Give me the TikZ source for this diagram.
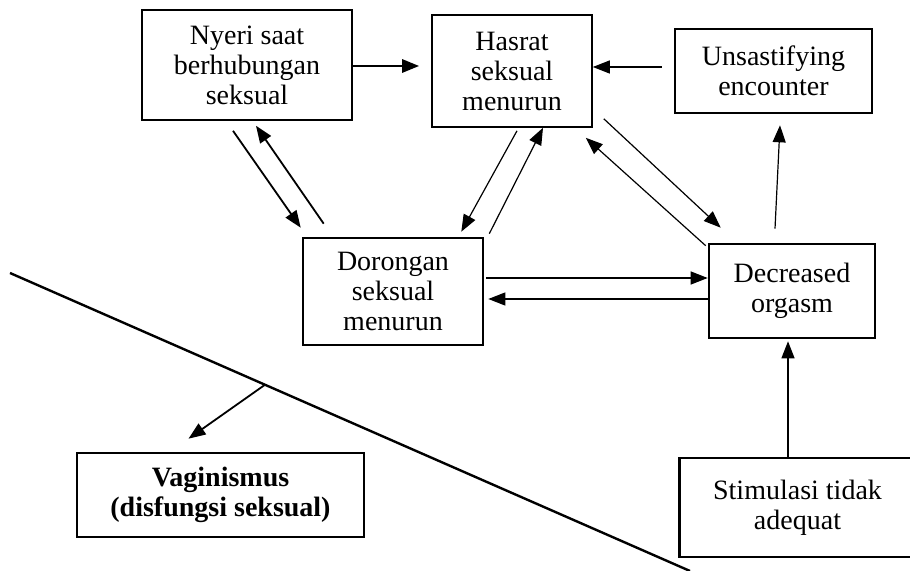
\documentclass[tikz,border=0pt]{standalone}
\usepackage{fontspec}
\setmainfont{Liberation Serif}
\usepackage{tikz}
\usetikzlibrary{positioning, calc, arrows.meta}

\begin{document}
\begin{tikzpicture}[x=0.5pt, y=-0.5pt,
    box/.style={draw, line width=0.8pt, align=center, inner sep=0pt,
      font=\fontsize{14}{15}\selectfont},
    boldbox/.style={box, line width=1.3pt},
    arr/.style={-{Triangle[length=8.5pt, width=6.5pt]}, line width=0.6pt},
    thickarr/.style={arr, line width=1.4pt}]
    \useasboundingbox (0,0) rectangle (910,571);

    % boxes
    \node[box, minimum width=105pt, minimum height=55pt] (nyeri) at (247,65)
      {Nyeri saat\\berhubungan\\seksual};
    \node[box, minimum width=80pt, minimum height=56pt] (hasrat) at (512,71)
      {Hasrat\\seksual\\menurun};
    \node[boldbox, minimum width=98.5pt, minimum height=42pt] (unsat) at (773.5,71)
      {Unsastifying\\encounter};
    \node[boldbox, minimum width=90pt, minimum height=53.5pt] (dorongan) at (393,291.5)
      {Dorongan\\seksual\\menurun};
    \node[boldbox, minimum width=83pt, minimum height=47pt] (decreased) at (792,291)
      {Decreased\\orgasm};
    \node[boldbox, minimum width=118pt, minimum height=49.5pt] (stimulasi) at (797.5,507.5)
      {Stimulasi tidak\\adequat};
    \node[boldbox, minimum width=143.5pt, minimum height=42pt] (vaginismus) at (220.5,495)
      {\bfseries Vaginismus\\\bfseries(disfungsi seksual)};

    % dividing line
    \coordinate (lineA) at (10,273);
    \coordinate (lineB) at (690,571);
    \draw[line width=1.2pt] (lineA) -- (lineB);
    \coordinate (split) at ($(lineA)!0.375!(lineB)$);
    \draw[arr, line width=0.9pt] (split) -- ($(vaginismus.north)+(-32,-13)$);

    % top row
    \draw[thickarr] ($(nyeri.east)+(0,1)$) coordinate (n1) -- ($(n1 -| hasrat.west)+(-12,0)$);
    \draw[arr] ($(unsat.west)+(-12,-4)$) coordinate (u1) -- (u1 -| hasrat.east);

    % Nyeri <-> Dorongan
    \draw[arr, line width=0.9pt] ($(nyeri.south)+(-14,10)$) -- ($(dorongan.north west)+(-1,-9)$);
    \draw[arr, line width=0.9pt] ($(dorongan.north west)+(22,-13)$) -- ($(nyeri.south)+(9,5)$);

    % Hasrat <-> Dorongan
    \draw[arr] ($(hasrat.south)+(5,3)$) -- ($(dorongan.north east)+(-23,-5)$);
    \draw[arr] ($(dorongan.north east)+(5,-3)$) -- ($(hasrat.south)+(31,0)$);

    % Hasrat <-> Decreased
    \draw[arr] ($(hasrat.south east)+(11,-9)$) -- ($(decreased.north west)+(13,-15)$);
    \draw[arr] ($(decreased.north west)+(-2,3)$) -- ($(hasrat.south east)+(-7,10)$);

    % Dorongan <-> Decreased
    \draw[arr] ($(dorongan.east)+(2,-13.5)$) coordinate (d1) -- (d1 -| decreased.west);
    \draw[arr] ($(decreased.west)+(0,8)$) coordinate (d2) -- ($(d2 -| dorongan.east)+(4,0)$);

    % into and out of Decreased
    \draw[arr] ($(decreased.north)+(-17,-14)$) -- ($(unsat.south)+(6.5,11)$);
    \draw[arr] ($(stimulasi.north)+(-9.5,0)$) coordinate (s1) -- ($(s1 |- decreased.south)+(0,2)$);
\end{tikzpicture}
\end{document}
